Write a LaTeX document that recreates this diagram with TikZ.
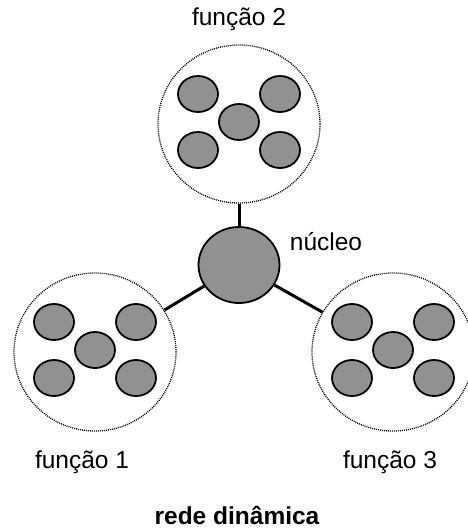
\documentclass[tikz,border=0pt]{standalone}
\usepackage{fontspec}
\setmainfont{Liberation Sans}
\usepackage{xcolor}
\usetikzlibrary{shapes,shapes.geometric,calc}
\definecolor{cellgray}{RGB}{145,145,145}

\begin{document}
\begin{tikzpicture}[x=1pt,y=-1pt,
  cell/.style={ellipse,draw,line width=1.8pt,fill=cellgray,minimum width=40pt,minimum height=36pt,inner sep=0pt},
  kern/.style={ellipse,draw,line width=1.8pt,fill=cellgray,minimum width=81pt,minimum height=76pt,inner sep=0pt},
  func/.style={ellipse,draw,line width=1.3pt,dash pattern=on 1pt off 1pt,minimum width=162pt,minimum height=158pt,inner sep=0pt},
  link/.style={line width=3pt},
  lbl/.style={font=\fontsize{24.5}{28}\selectfont}]
\useasboundingbox (0,0) rectangle (467,531);
\newcommand{\Cells}{-41/-30,41/-30,0/-2,-41/26,41/26}

% the three function groups
\node[func] (F2) at (239,124) {};
\node[func] (F1) at (95,352) {};
\node[func] (F3) at (393,352) {};
\foreach \dx/\dy in \Cells{\node[cell] at ($(F2)+(\dx,\dy)$) {};}
\foreach \dx/\dy in \Cells{\node[cell] at ($(F1)+(\dx,\dy)$) {};}
\foreach \dx/\dy in \Cells{\node[cell] at ($(F3)+(\dx,\dy)$) {};}

% core
\node[kern] (K) at (239,265) {};
\draw[link] (K) -- (F2);
\draw[link] (K) -- (F1);
\draw[link] (K) -- (F3);

\node[lbl] (L2) at (239,19) {função 2};
\node[lbl] (LK) at (326,242) {núcleo};
\node[lbl] (L1) at (82,462) {função 1};
\node[lbl] (L3) at (390,462) {função 3};
\node[lbl,font=\fontsize{24.5}{28}\selectfont\bfseries] (T) at (237,515) {rede dinâmica};
\end{tikzpicture}
\end{document}
